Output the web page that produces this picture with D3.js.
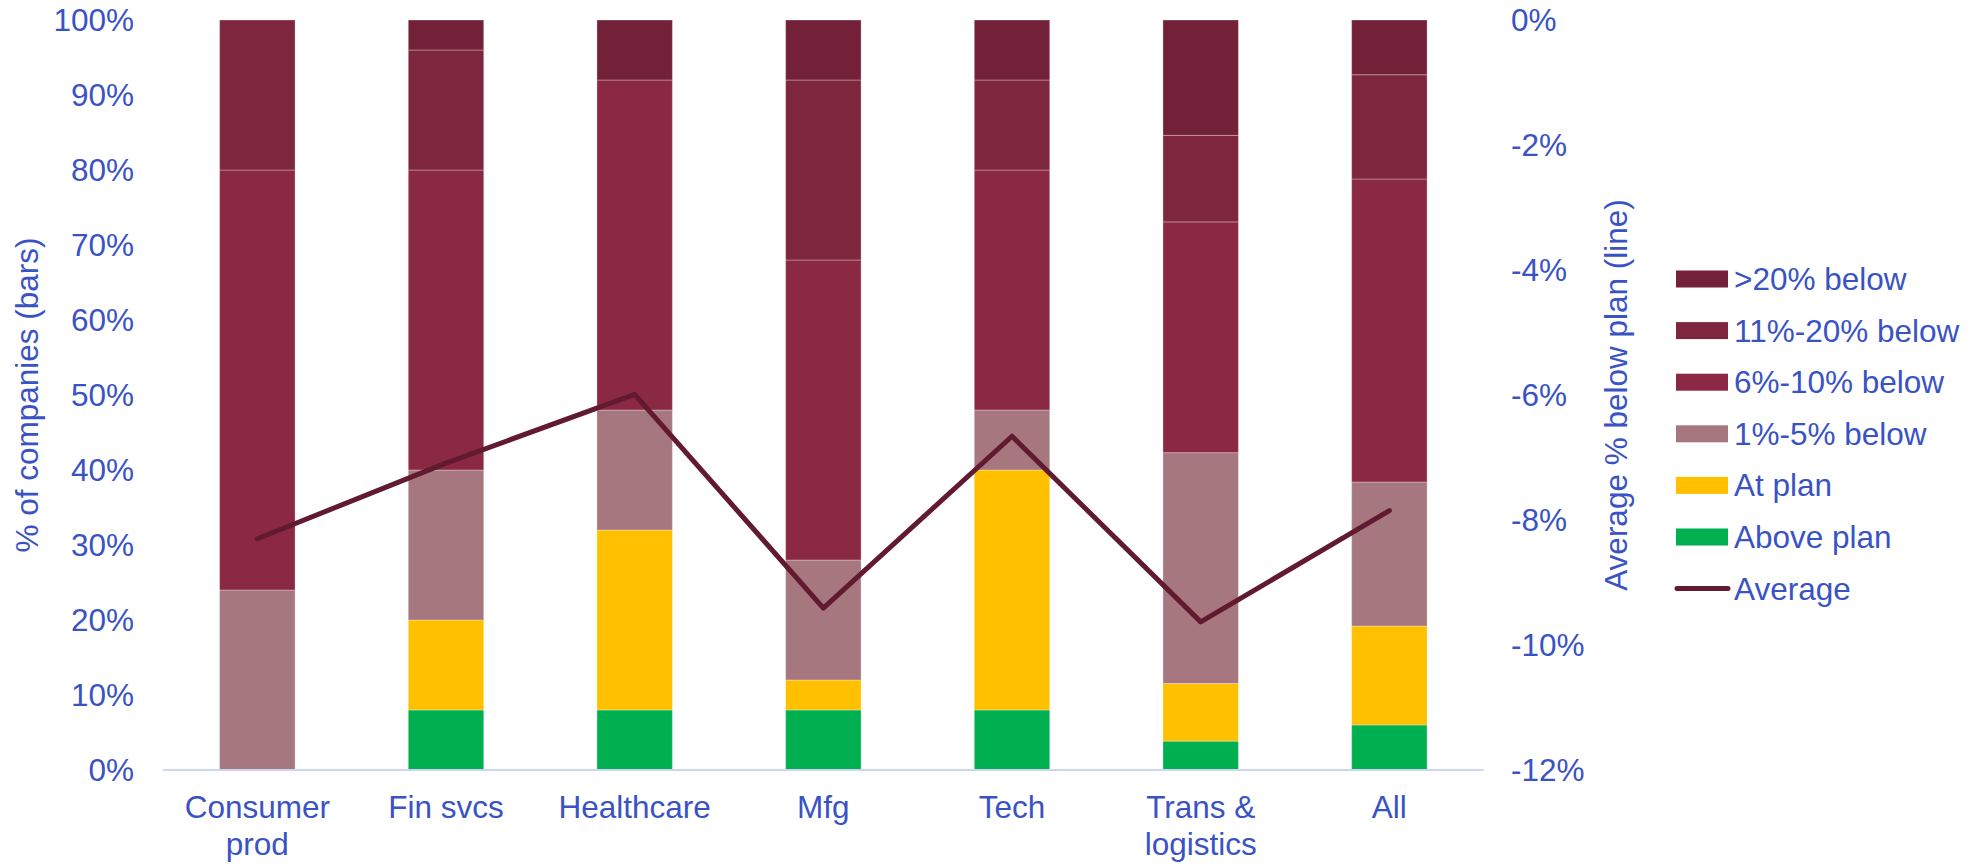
<!DOCTYPE html>
<html>
<head>
<meta charset="utf-8">
<script src="https://cdn.jsdelivr.net/npm/d3@7"></script>
<style>
  html, body { margin: 0; padding: 0; background: #ffffff; }
  svg { display: block; }
  text { font-family: "Liberation Sans", Arial, sans-serif; fill: #3a53c4; }
</style>
</head>
<body>
<svg id="chart" width="1986" height="865"></svg>
<script>
// ---- Data ----
const categories = ["Consumer prod", "Fin svcs", "Healthcare", "Mfg", "Tech", "Trans & logistics", "All"];
const categoryLines = [["Consumer", "prod"], ["Fin svcs"], ["Healthcare"], ["Mfg"], ["Tech"], ["Trans &", "logistics"], ["All"]];
const seriesNames = ["Above plan", "At plan", "1%-5% below", "6%-10% below", "11%-20% below", ">20% below"];
const abovePlan   = [0, 8, 8, 8, 8, 3.85, 6.0];
const atPlan      = [0, 12, 24, 4, 32, 7.69, 13.2];
const below1to5   = [24, 20, 16, 16, 8, 30.77, 19.2];
const below6to10  = [56, 40, 44, 40, 32, 30.77, 40.4];
const below11to20 = [20, 16, 0, 24, 12, 11.54, 13.9];
const below20plus = [0, 4, 8, 8, 8, 15.38, 7.3];
const averageLine = [-8.30, -7.09, -5.99, -9.41, -6.66, -9.63, -7.85];
const leftTicks  = [0, 10, 20, 30, 40, 50, 60, 70, 80, 90, 100];
const rightTicks = [0, -2, -4, -6, -8, -10, -12];
const seriesColors = ["#00b050", "#ffc000", "#a6777f", "#8b2944", "#7f263f", "#722138"];
const lineColor = "#621a30";
const textColor = "#3a53c4";

// ---- Build table ----
const seriesArrays = [abovePlan, atPlan, below1to5, below6to10, below11to20, below20plus];
const table = categories.map((c, i) => {
  const row = { cat: c };
  seriesNames.forEach((s, j) => { row[s] = seriesArrays[j][i]; });
  return row;
});

const FS = 31.5;
const svg = d3.select("#chart");
const plotLeft = 163, plotRight = 1483.7, plotTop = 20, plotBottom = 770;

const x = d3.scaleBand().domain(categories).range([plotLeft, plotRight]).paddingInner(0.6).paddingOuter(0.3);
const yL = d3.scaleLinear().domain([0, 100]).range([plotBottom, plotTop]);
const yR = d3.scaleLinear().domain([-12, 0]).range([plotBottom, plotTop]);

const stacked = d3.stack().keys(seriesNames)(table);

// Bars
const g = svg.append("g");
g.selectAll("g.series").data(stacked).enter().append("g")
  .attr("fill", (d, i) => seriesColors[i])
  .selectAll("rect").data(d => d.filter(p => p[1] - p[0] > 0)).enter().append("rect")
  .attr("x", d => x(d.data.cat))
  .attr("width", x.bandwidth())
  .attr("y", d => yL(d[1]))
  .attr("height", d => yL(d[0]) - yL(d[1]))
  .attr("stroke", "rgba(255,255,255,0.3)")
  .attr("stroke-width", 1);

// X axis baseline
svg.append("line")
  .attr("x1", plotLeft).attr("x2", plotRight)
  .attr("y1", plotBottom).attr("y2", plotBottom)
  .attr("stroke", "#cdd6f0").attr("stroke-width", 2);

// Left axis
const leftAxis = d3.axisLeft(yL).tickValues(leftTicks).tickFormat(d => d + "%").tickSize(0).tickPadding(0);
const la = svg.append("g").attr("transform", "translate(134,0)").call(leftAxis);
la.select(".domain").remove();
la.selectAll("text").attr("font-size", FS).attr("fill", textColor).attr("font-family", "Liberation Sans, Arial, sans-serif");

// Right axis
const rightAxis = d3.axisRight(yR).tickValues(rightTicks).tickFormat(d => d + "%").tickSize(0).tickPadding(0);
const ra = svg.append("g").attr("transform", "translate(1511,0)").call(rightAxis);
ra.select(".domain").remove();
ra.selectAll("text").attr("font-size", FS).attr("fill", textColor).attr("font-family", "Liberation Sans, Arial, sans-serif");

// X category labels
const xl = svg.append("g");
categories.forEach((c, i) => {
  const cx = x(c) + x.bandwidth() / 2;
  const t = xl.append("text")
    .attr("x", cx)
    .attr("y", 818)
    .attr("text-anchor", "middle")
    .attr("font-size", FS);
  categoryLines[i].forEach((ln, k) => {
    t.append("tspan").attr("x", cx).attr("dy", k === 0 ? 0 : 37).text(ln);
  });
});

// Axis titles
svg.append("text")
  .attr("transform", `translate(38,${(plotTop + plotBottom) / 2}) rotate(-90)`)
  .attr("text-anchor", "middle").attr("font-size", FS)
  .text("% of companies (bars)");
svg.append("text")
  .attr("transform", `translate(1627,${(plotTop + plotBottom) / 2}) rotate(-90)`)
  .attr("text-anchor", "middle").attr("font-size", FS)
  .text("Average % below plan (line)");

// Average line
const line = d3.line().x((d, i) => x(categories[i]) + x.bandwidth() / 2).y(d => yR(d));
svg.append("path").datum(averageLine)
  .attr("d", line).attr("fill", "none")
  .attr("stroke", lineColor).attr("stroke-width", 5)
  .attr("stroke-linecap", "round").attr("stroke-linejoin", "round");

// Legend
const legendItems = seriesNames.slice().reverse().map(n => ({ name: n, color: seriesColors[seriesNames.indexOf(n)], type: "rect" }));
legendItems.push({ name: "Average", color: lineColor, type: "line" });
const lg = svg.append("g");
legendItems.forEach((it, i) => {
  const cy = 279 + i * 51.6;
  if (it.type === "rect") {
    lg.append("rect").attr("x", 1676).attr("y", cy - 8.5).attr("width", 52).attr("height", 17).attr("fill", it.color);
  } else {
    lg.append("line").attr("x1", 1677).attr("x2", 1728).attr("y1", cy).attr("y2", cy)
      .attr("stroke", it.color).attr("stroke-width", 5).attr("stroke-linecap", "round");
  }
  lg.append("text").attr("x", 1734).attr("y", cy).attr("dy", "0.35em").attr("font-size", FS).text(it.name);
});
</script>
</body>
</html>
